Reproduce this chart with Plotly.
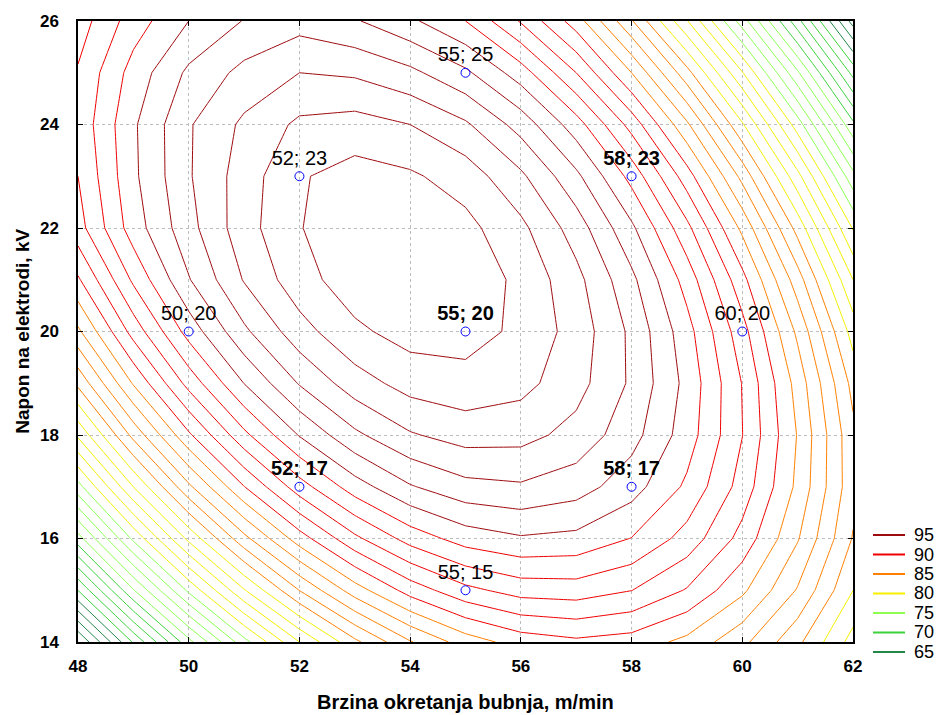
import plotly.graph_objects as go

# Grid of the response surface
x_speed = [48, 49, 50, 51, 52, 53, 54, 55, 56, 57, 58, 59, 60, 61, 62]
y_voltage = [14, 15, 16, 17, 18, 19, 20, 21, 22, 23, 24, 25, 26]

z_14 = [64.97, 70.13, 74.68, 78.64, 82.00, 84.76, 86.92, 88.48, 89.44, 89.80, 89.56, 88.72, 87.28, 85.24, 82.60]
z_15 = [70.02, 74.92, 79.22, 82.92, 86.02, 88.52, 90.42, 91.72, 92.42, 92.52, 92.02, 90.92, 89.21, 86.91, 84.01]
z_16 = [74.58, 79.22, 83.26, 86.70, 89.53, 91.77, 93.41, 94.45, 94.89, 94.73, 93.97, 92.61, 90.65, 88.09, 84.93]
z_17 = [78.63, 83.01, 86.79, 89.97, 92.55, 94.53, 95.91, 96.69, 96.87, 96.45, 95.43, 93.81, 91.59, 88.77, 85.34]
z_18 = [82.19, 86.31, 89.83, 92.75, 95.07, 96.79, 97.90, 98.42, 98.34, 97.66, 96.38, 94.50, 92.02, 88.94, 85.26]
z_19 = [85.24, 89.10, 92.36, 95.02, 97.08, 98.54, 99.40, 99.66, 99.32, 98.38, 96.84, 94.70, 91.96, 88.62, 84.68]
z_20 = [87.80, 91.40, 94.40, 96.80, 98.60, 99.80, 100.40, 100.40, 99.79, 98.59, 96.79, 94.39, 91.39, 87.79, 83.59]
z_21 = [89.86, 93.19, 95.93, 98.07, 99.61, 100.55, 100.89, 100.63, 99.77, 98.31, 96.25, 93.59, 90.33, 86.47, 82.01]
z_22 = [91.60, 94.50, 96.65, 98.60, 99.95, 100.70, 100.75, 100.30, 99.25, 97.53, 95.20, 92.28, 88.76, 84.64, 79.92]
z_23 = [92.00, 94.80, 96.90, 98.50, 99.90, 100.40, 100.15, 99.55, 98.20, 96.24, 93.66, 90.48, 86.70, 82.32, 77.34]
z_24 = [92.30, 94.85, 96.90, 98.20, 99.20, 99.40, 99.00, 98.15, 96.60, 94.46, 91.62, 88.18, 84.13, 79.49, 74.25]
z_25 = [92.10, 94.40, 96.20, 97.30, 98.00, 97.85, 97.25, 96.20, 94.50, 92.00, 89.00, 85.37, 81.07, 76.17, 70.67]
z_26 = [91.50, 93.50, 95.00, 96.05, 96.60, 96.10, 95.20, 94.00, 91.90, 89.50, 86.10, 82.07, 77.51, 72.35, 66.58]
z_grid = [z_14, z_15, z_16, z_17, z_18, z_19, z_20, z_21, z_22, z_23, z_24, z_25, z_26]

# Legend bands (level label, lowest level, highest level, colour)
band_labels = ["95", "90", "85", "80", "75", "70", "65"]
band_start = [95, 90, 85, 80, 75, 70, 55]
band_end = [100, 94, 89, 84, 79, 74, 69]
band_colors = ["#9E0B0F", "#F00000", "#FF8000", "#F5F000", "#8CFF50", "#3CD23C", "#23874A"]

# Experimental design points
pt_x = [50, 52, 52, 55, 55, 55, 58, 58, 60]
pt_y = [20, 17, 23, 15, 20, 25, 17, 23, 20]
pt_labels = ["50; 20", "52; 17", "52; 23", "55; 15", "55; 20", "55; 25", "58; 17", "58; 23", "60; 20"]
pt_bold = [False, True, False, False, True, False, True, True, False]

fig = go.Figure()

for lab, s, e, col in zip(band_labels, band_start, band_end, band_colors):
    fig.add_trace(go.Contour(
        x=x_speed, y=y_voltage, z=z_grid, name=lab,
        autocontour=False,
        contours=dict(start=s, end=e, size=1, coloring="none"),
        line=dict(color=col, width=1, smoothing=0),
        showscale=False, showlegend=False, hoverinfo="skip",
    ))

texts = [("<b>%s</b>" % t) if b else t for t, b in zip(pt_labels, pt_bold)]
fig.add_trace(go.Scatter(
    x=pt_x, y=pt_y, mode="markers+text", text=texts,
    textposition="top center",
    textfont=dict(family="Liberation Sans, Arial, sans-serif", size=20, color="black"),
    marker=dict(symbol="circle-open", size=9, color="#0000FF", line=dict(width=1, color="#0000FF")),
    showlegend=False, hoverinfo="skip", cliponaxis=False,
))

# Legend key drawn beside the plot (one row per band)
leg_x0, leg_x1, leg_tx = 1.0258, 1.0671, 1.0761
leg_top, leg_step = 0.1723, 0.0314
shapes = []
annotations = []
for i, (lab, col) in enumerate(zip(band_labels, band_colors)):
    yy = leg_top - i * leg_step
    shapes.append(dict(type="line", xref="paper", yref="paper", x0=leg_x0, x1=leg_x1, y0=yy, y1=yy,
                       line=dict(color=col, width=2)))
    annotations.append(dict(text=lab, xref="paper", yref="paper", x=leg_tx, y=yy,
                            xanchor="left", yanchor="middle", showarrow=False,
                            font=dict(family="Liberation Sans, Arial", size=18, color="black")))

annotations.append(dict(text="<b>Brzina okretanja bubnja, m/min</b>", xref="paper", yref="paper",
                        x=0.5, y=-0.0966, xanchor="center", yanchor="middle", showarrow=False,
                        font=dict(family="Liberation Sans Narrow, Arial Narrow, Liberation Sans, Arial", size=20, color="black")))
annotations.append(dict(text="<b>Napon na elektrodi, kV</b>", xref="paper", yref="paper",
                        x=-0.072, y=0.5, xanchor="center", yanchor="middle", showarrow=False, textangle=-90,
                        font=dict(family="Liberation Sans Narrow, Arial Narrow, Liberation Sans, Arial", size=19, color="black")))

axis_common = dict(
    showline=True, linecolor="black", linewidth=1.5, mirror="ticks",
    ticks="inside", ticklen=5, tickcolor="black",
    showgrid=True, gridcolor="#BDBDBD", griddash="dot", gridwidth=1,
    zeroline=False, automargin=False,
    tickfont=dict(family="Liberation Sans Narrow, Arial Narrow, Liberation Sans, Arial", size=17, color="black", weight="bold"),
)

fig.update_layout(
    width=940, height=715,
    margin=dict(l=78, r=87, t=21, b=73),
    paper_bgcolor="white", plot_bgcolor="white",
    showlegend=False,
    xaxis=dict(range=[48, 62], dtick=2, tick0=48, ticklabelstandoff=8, **axis_common),
    yaxis=dict(range=[14, 26], dtick=2, tick0=14, ticklabelstandoff=14, **axis_common),
    shapes=shapes,
    annotations=annotations,
)

# remove the default page margin so the 940x715 figure fills the window exactly
fig.write_html("out.html",
               config={"displayModeBar": False},
               post_script="document.body.style.margin='0';document.body.style.overflow='hidden';")
